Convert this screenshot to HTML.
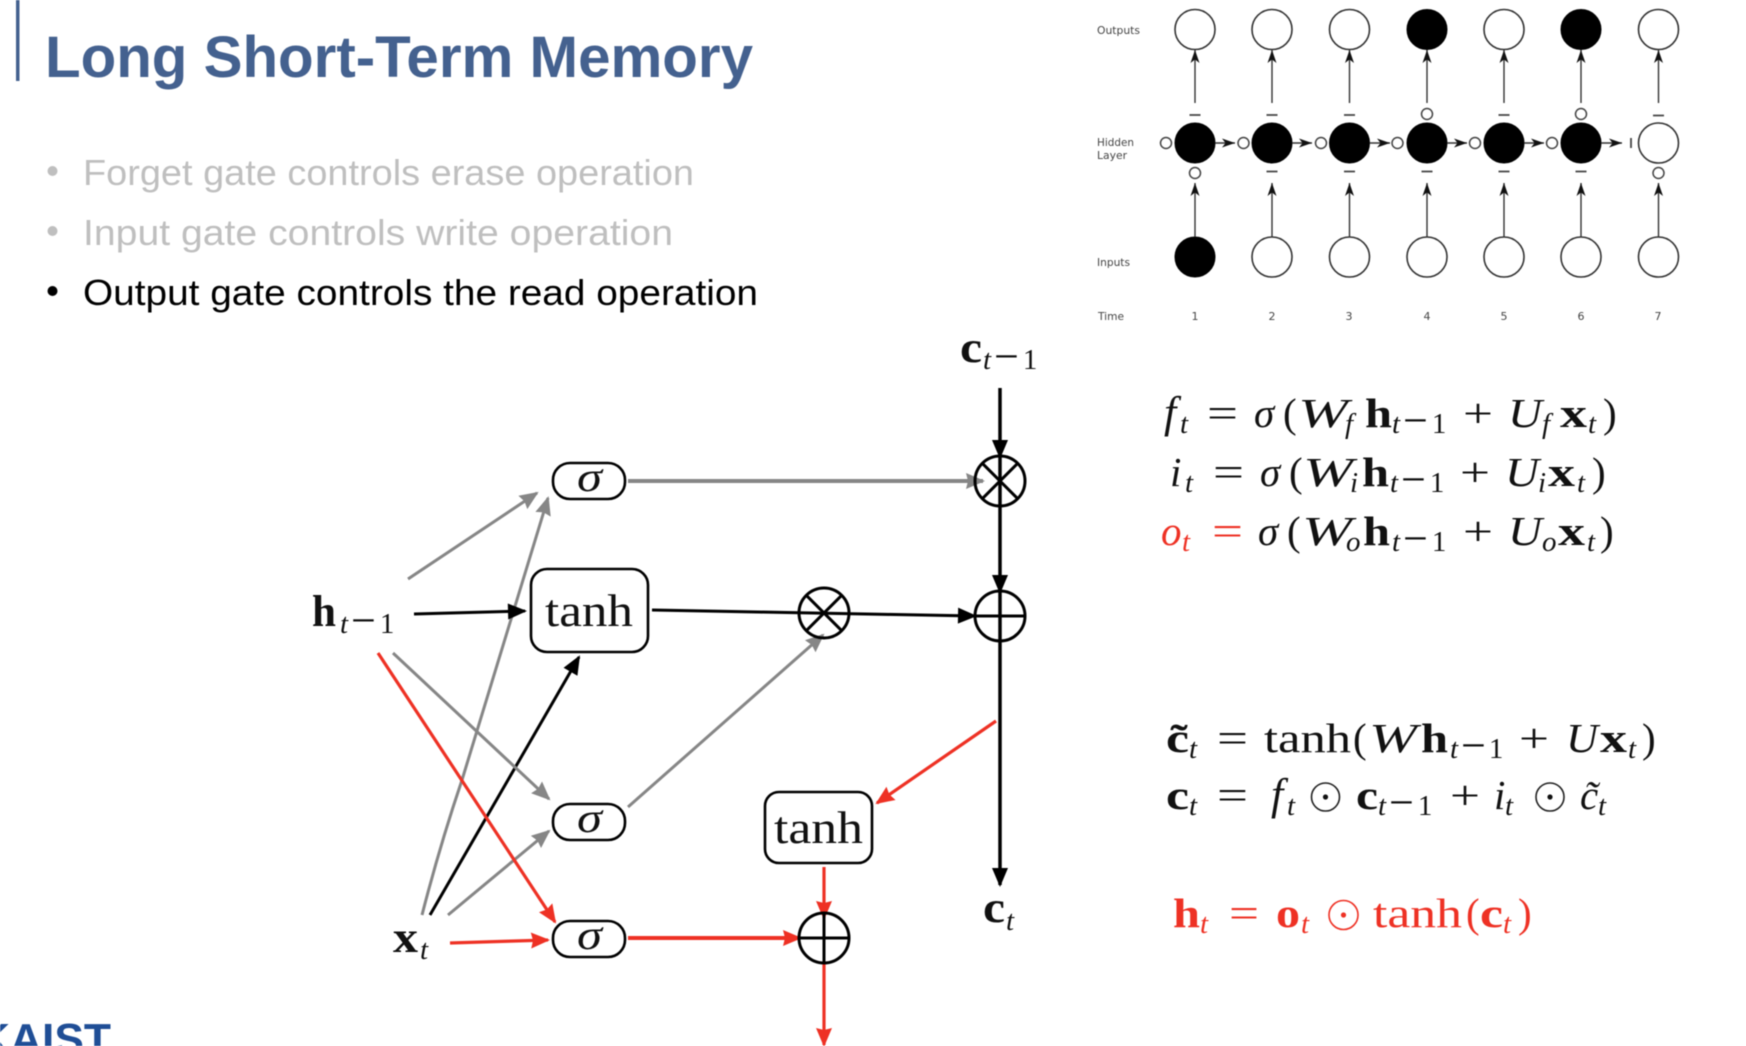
<!DOCTYPE html>
<html><head><meta charset="utf-8"><style>
html,body{margin:0;padding:0;background:#fff;width:1746px;height:1046px;overflow:hidden}
svg{display:block;filter:blur(.45px)}
text{font-family:"Liberation Serif",serif;fill:#111}
.m{font-size:41px}.i{font-style:italic}.b{font-weight:bold}.s{font-size:29px}.si{font-size:29px;font-style:italic}
.r text,text.r{fill:#ee3124}
.ui{font-family:"Liberation Sans",sans-serif}
.d{font-family:"DejaVu Sans",sans-serif;font-size:11px;fill:#444}
.n{stroke:#333;stroke-width:1.6;fill:#fff}.f{fill:#000;stroke:#000;stroke-width:1}
.o{stroke:#444;stroke-width:1.5;fill:#fff}
.a{stroke:#333;stroke-width:1.4;fill:none;marker-end:url(#st)}
.t{stroke:#444;stroke-width:1.8}
.k{stroke:#000;stroke-width:3.5;fill:none;marker-end:url(#hk)}
.g{stroke:#868686;stroke-width:3;fill:none;marker-end:url(#hg)}
.e{stroke:#ee3124;stroke-width:3.2;fill:none;marker-end:url(#he)}
.x{fill:none;stroke:#000;stroke-width:3}
.bx{fill:#fff;stroke:#000;stroke-width:2.6}
</style></head><body>
<svg width="1746" height="1046" viewBox="0 0 1746 1046" xmlns="http://www.w3.org/2000/svg">
<defs>
<marker id="st" markerUnits="userSpaceOnUse" markerWidth="16" markerHeight="12" refX="13" refY="6" orient="auto" overflow="visible"><path d="M0 1.5L13 6L0 10.5L3.5 6z" fill="#111"/></marker>
<marker id="hk" markerUnits="userSpaceOnUse" markerWidth="22" markerHeight="20" refX="17" refY="10" orient="auto" overflow="visible"><path d="M0 2L19 10L0 18z" fill="#000"/></marker>
<marker id="hg" markerUnits="userSpaceOnUse" markerWidth="22" markerHeight="20" refX="17" refY="10" orient="auto" overflow="visible"><path d="M0 2L19 10L0 18L2 10z" fill="#868686"/></marker>
<marker id="he" markerUnits="userSpaceOnUse" markerWidth="22" markerHeight="20" refX="17" refY="10" orient="auto" overflow="visible"><path d="M0 2L19 10L0 18L2 10z" fill="#ee3124"/></marker>
</defs>

<!-- title -->
<rect x="16" y="0" width="3.5" height="81" fill="#44618f"/>
<text class="ui" x="45" y="77" font-size="58" font-weight="bold" style="fill:#44618f" textLength="708" lengthAdjust="spacingAndGlyphs">Long Short-Term Memory</text>
<circle cx="52.5" cy="171" r="5" fill="#bfbfbf"/><circle cx="52.5" cy="231" r="5" fill="#bfbfbf"/><circle cx="52.5" cy="291" r="5" fill="#000"/>
<text class="ui" x="83" y="185" font-size="36" style="fill:#bfbfbf" textLength="611" lengthAdjust="spacingAndGlyphs">Forget gate controls erase operation</text>
<text class="ui" x="83" y="245" font-size="36" style="fill:#bfbfbf" textLength="590" lengthAdjust="spacingAndGlyphs">Input gate controls write operation</text>
<text class="ui" x="83" y="305" font-size="36" style="fill:#000" textLength="675" lengthAdjust="spacingAndGlyphs">Output gate controls the read operation</text>
<text class="ui" x="-22" y="1054" font-size="44" font-weight="bold" style="fill:#1f4e96" textLength="133" lengthAdjust="spacingAndGlyphs">KAIST</text>

<!-- RNN chart -->
<g>
<text class="d" x="1097" y="34" textLength="43" lengthAdjust="spacingAndGlyphs">Outputs</text>
<text class="d" x="1097" y="146" textLength="37" lengthAdjust="spacingAndGlyphs">Hidden</text>
<text class="d" x="1097" y="159" textLength="30" lengthAdjust="spacingAndGlyphs">Layer</text>
<text class="d" x="1097" y="266" textLength="33" lengthAdjust="spacingAndGlyphs">Inputs</text>
<text class="d" x="1098" y="320" textLength="26" lengthAdjust="spacingAndGlyphs">Time</text>
<text class="d" x="1195" y="320" text-anchor="middle">1</text><text class="d" x="1272" y="320" text-anchor="middle">2</text><text class="d" x="1349" y="320" text-anchor="middle">3</text><text class="d" x="1427" y="320" text-anchor="middle">4</text><text class="d" x="1504" y="320" text-anchor="middle">5</text><text class="d" x="1581" y="320" text-anchor="middle">6</text><text class="d" x="1658" y="320" text-anchor="middle">7</text>

<circle class="n" cx="1195" cy="29.5" r="20"/><circle class="n" cx="1272" cy="29.5" r="20"/><circle class="n" cx="1349.5" cy="29.5" r="20"/><circle class="f" cx="1427" cy="29.5" r="20"/><circle class="n" cx="1504" cy="29.5" r="20"/><circle class="f" cx="1581" cy="29.5" r="20"/><circle class="n" cx="1658.5" cy="29.5" r="20"/>
<circle class="f" cx="1195" cy="143" r="20"/><circle class="f" cx="1272" cy="143" r="20"/><circle class="f" cx="1349.5" cy="143" r="20"/><circle class="f" cx="1427" cy="143" r="20"/><circle class="f" cx="1504" cy="143" r="20"/><circle class="f" cx="1581" cy="143" r="20"/><circle class="n" cx="1658.5" cy="143" r="20"/>
<circle class="f" cx="1195" cy="257" r="20"/><circle class="n" cx="1272" cy="257" r="20"/><circle class="n" cx="1349.5" cy="257" r="20"/><circle class="n" cx="1427" cy="257" r="20"/><circle class="n" cx="1504" cy="257" r="20"/><circle class="n" cx="1581" cy="257" r="20"/><circle class="n" cx="1658.5" cy="257" r="20"/>
<path class="a" d="M1195 103V50"/><path class="a" d="M1272 103V50"/><path class="a" d="M1349.5 103V50"/><path class="a" d="M1427 103V50"/><path class="a" d="M1504 103V50"/><path class="a" d="M1581 103V50"/><path class="a" d="M1658.5 103V50"/>
<path class="a" d="M1195 237V183"/><path class="a" d="M1272 237V183"/><path class="a" d="M1349.5 237V183"/><path class="a" d="M1427 237V183"/><path class="a" d="M1504 237V183"/><path class="a" d="M1581 237V183"/><path class="a" d="M1658.5 237V183"/>
<path class="a" d="M1215 143H1235"/><path class="a" d="M1292 143H1312"/><path class="a" d="M1369.5 143H1390"/><path class="a" d="M1447 143H1467"/><path class="a" d="M1524 143H1544"/><path class="a" d="M1601 143H1622"/>
<line class="t" x1="1631" y1="138" x2="1631" y2="148"/>
<circle class="o" cx="1166" cy="143" r="5.5"/><circle class="o" cx="1243.5" cy="143" r="5.5"/><circle class="o" cx="1321" cy="143" r="5.5"/><circle class="o" cx="1397.5" cy="143" r="5.5"/><circle class="o" cx="1475" cy="143" r="5.5"/><circle class="o" cx="1552" cy="143" r="5.5"/>
<circle class="o" cx="1427" cy="114" r="5.5"/><circle class="o" cx="1581" cy="114" r="5.5"/>
<circle class="o" cx="1195" cy="173" r="5.5"/><circle class="o" cx="1658.5" cy="173" r="5.5"/>
<path class="t" d="M1189.5 115h11M1266.5 115h11M1344 115h11M1498.5 115h11M1653 115.500h11M1266.5 171.500h11M1344 171.500h11M1421.5 171.500h11M1498.5 171.500h11M1575.500 171.500h11"/>
</g>

<!-- diagram connectors -->
<path class="g" d="M408 579L537 493"/>
<path class="g" d="M422 915Q440 845 462 780L548 498"/>
<path class="k" style="stroke-width:3" d="M414 614L525 611"/>
<path class="k" style="stroke-width:3" d="M430 915L579 657"/>
<path class="g" d="M393 653L549 799"/>
<path class="g" d="M448 915L549 831"/>
<path class="g" d="M628 807L823 635"/>
<path class="g" style="stroke-width:4" d="M628 481H983"/>
<path class="k" d="M1000 388V457"/>
<path class="k" d="M1000 457V592"/>
<path class="k" d="M1000 592V885"/>
<path class="k" style="stroke-width:3" d="M652 610L975 616"/>
<path class="e" d="M378 653L555 922"/>
<path class="e" d="M450 943L548 940"/>
<path class="e" style="stroke-width:4" d="M628 938H800"/>
<path class="e" d="M996 721L877 803"/>
<path class="e" d="M824 867V918"/>
<path class="e" d="M824 963V1045"/>

<!-- operators -->
<circle class="x" cx="1000" cy="481" r="25"/><path class="x" d="M982.300 463.300L1017.700 498.700M982.300 498.700L1017.700 463.300"/>
<circle class="x" cx="824" cy="613" r="25"/><path class="x" d="M806.300 595.300L841.700 630.700M806.300 630.700L841.700 595.300"/>
<circle class="x" cx="1000" cy="616" r="25"/><path class="x" d="M975 616H1025M1000 591V641"/>
<circle class="x" cx="824" cy="938" r="25"/><path class="x" d="M799 938H849M824 913V963"/>

<!-- boxes -->
<rect class="bx" x="553" y="463" width="72" height="36" rx="17"/>
<rect class="bx" x="553" y="804" width="72" height="36" rx="17"/>
<rect class="bx" x="553" y="921" width="72" height="36" rx="17"/>
<rect class="bx" x="531" y="569" width="117" height="83" rx="16"/>
<rect class="bx" x="765" y="792" width="107" height="71" rx="14"/>
<text class="i" x="577" y="491" font-size="42" textLength="25" lengthAdjust="spacingAndGlyphs">σ</text>
<text class="i" x="577" y="832" font-size="42" textLength="25" lengthAdjust="spacingAndGlyphs">σ</text>
<text class="i" x="577" y="949" font-size="42" textLength="25" lengthAdjust="spacingAndGlyphs">σ</text>
<text x="545" y="626" font-size="45" textLength="88" lengthAdjust="spacingAndGlyphs">tanh</text>
<text x="774" y="843" font-size="45" textLength="89" lengthAdjust="spacingAndGlyphs">tanh</text>

<!-- diagram labels -->
<text class="b" x="312" y="626" font-size="44" textLength="24" lengthAdjust="spacingAndGlyphs">h</text>
<text class="s" x="340" y="633"><tspan font-style="italic">t</tspan><tspan font-size="44" dx="3" dy="2">−</tspan><tspan dx="4" dy="-2">1</tspan></text>
<text class="b" x="960" y="362" font-size="44" textLength="22" lengthAdjust="spacingAndGlyphs">c</text>
<text class="s" x="983" y="369"><tspan font-style="italic">t</tspan><tspan font-size="44" dx="3" dy="2">−</tspan><tspan dx="4" dy="-2">1</tspan></text>
<text class="b" x="393" y="952" font-size="44" textLength="25" lengthAdjust="spacingAndGlyphs">x</text>
<text class="si" x="420" y="959">t</text>
<text class="b" x="983" y="922" font-size="44" textLength="22" lengthAdjust="spacingAndGlyphs">c</text>
<text class="si" x="1006" y="930">t</text>

<!-- eq 1 -->
<text class="i" x="1164" y="427" font-size="44">f</text><text class="si" x="1180" y="433">t</text>
<text class="m" x="1207" y="427" textLength="31" lengthAdjust="spacingAndGlyphs">=</text>
<text class="m i" x="1254" y="427">σ</text><text class="m" x="1283" y="427">(</text>
<text class="m i" x="1298" y="427" textLength="50" lengthAdjust="spacingAndGlyphs">W</text><text class="si" x="1345" y="433">f</text>
<text class="m b" x="1365" y="427" textLength="27" lengthAdjust="spacingAndGlyphs">h</text>
<text class="s" x="1392" y="433"><tspan font-style="italic">t</tspan><tspan font-size="44" dx="3" dy="2">−</tspan><tspan dx="4" dy="-2">1</tspan></text>
<text class="m" x="1463" y="427" textLength="30" lengthAdjust="spacingAndGlyphs">+</text>
<text class="m i" x="1508" y="427" textLength="34" lengthAdjust="spacingAndGlyphs">U</text><text class="si" x="1542" y="433">f</text>
<text class="m b" x="1560" y="427" textLength="27" lengthAdjust="spacingAndGlyphs">x</text><text class="si" x="1588" y="433">t</text>
<text class="m" x="1603" y="427">)</text>

<!-- eq 2 -->
<text class="m i" x="1170" y="486">i</text><text class="si" x="1185" y="492">t</text>
<text class="m" x="1213" y="486" textLength="31" lengthAdjust="spacingAndGlyphs">=</text>
<text class="m i" x="1260" y="486">σ</text><text class="m" x="1289" y="486">(</text>
<text class="m i" x="1303" y="486" textLength="50" lengthAdjust="spacingAndGlyphs">W</text><text class="si" x="1350" y="492">i</text>
<text class="m b" x="1362" y="486" textLength="27" lengthAdjust="spacingAndGlyphs">h</text>
<text class="s" x="1390" y="492"><tspan font-style="italic">t</tspan><tspan font-size="44" dx="3" dy="2">−</tspan><tspan dx="4" dy="-2">1</tspan></text>
<text class="m" x="1460" y="486" textLength="30" lengthAdjust="spacingAndGlyphs">+</text>
<text class="m i" x="1505" y="486" textLength="34" lengthAdjust="spacingAndGlyphs">U</text><text class="si" x="1538" y="492">i</text>
<text class="m b" x="1548" y="486" textLength="27" lengthAdjust="spacingAndGlyphs">x</text><text class="si" x="1577" y="492">t</text>
<text class="m" x="1592" y="486">)</text>

<!-- eq 3 -->
<text class="m i r" x="1161" y="545">o</text><text class="si r" x="1182" y="551">t</text>
<text class="m r" x="1212" y="545" textLength="31" lengthAdjust="spacingAndGlyphs">=</text>
<text class="m i" x="1258" y="545">σ</text><text class="m" x="1287" y="545">(</text>
<text class="m i" x="1302" y="545" textLength="50" lengthAdjust="spacingAndGlyphs">W</text><text class="si" x="1346" y="551">o</text>
<text class="m b" x="1363" y="545" textLength="27" lengthAdjust="spacingAndGlyphs">h</text>
<text class="s" x="1392" y="551"><tspan font-style="italic">t</tspan><tspan font-size="44" dx="3" dy="2">−</tspan><tspan dx="4" dy="-2">1</tspan></text>
<text class="m" x="1463" y="545" textLength="30" lengthAdjust="spacingAndGlyphs">+</text>
<text class="m i" x="1508" y="545" textLength="34" lengthAdjust="spacingAndGlyphs">U</text><text class="si" x="1542" y="551">o</text>
<text class="m b" x="1558" y="545" textLength="27" lengthAdjust="spacingAndGlyphs">x</text><text class="si" x="1587" y="551">t</text>
<text class="m" x="1600" y="545">)</text>

<!-- eq 4 -->
<text class="m b" x="1166" y="752" textLength="23" lengthAdjust="spacingAndGlyphs">c̃</text><text class="si" x="1189" y="758">t</text>
<text class="m" x="1217" y="752" textLength="31" lengthAdjust="spacingAndGlyphs">=</text>
<text class="m" x="1264" y="752" textLength="87" lengthAdjust="spacingAndGlyphs">tanh</text><text class="m" x="1353" y="752">(</text>
<text class="m i" x="1369" y="752" textLength="48" lengthAdjust="spacingAndGlyphs">W</text>
<text class="m b" x="1421" y="752" textLength="27" lengthAdjust="spacingAndGlyphs">h</text>
<text class="s" x="1450" y="758"><tspan font-style="italic">t</tspan><tspan font-size="44" dx="3" dy="2">−</tspan><tspan dx="3" dy="-2">1</tspan></text>
<text class="m" x="1519" y="752" textLength="30" lengthAdjust="spacingAndGlyphs">+</text>
<text class="m i" x="1566" y="752" textLength="32" lengthAdjust="spacingAndGlyphs">U</text>
<text class="m b" x="1600" y="752" textLength="27" lengthAdjust="spacingAndGlyphs">x</text><text class="si" x="1628" y="758">t</text>
<text class="m" x="1642" y="752">)</text>

<!-- eq 5 -->
<text class="m b" x="1166" y="809" textLength="23" lengthAdjust="spacingAndGlyphs">c</text><text class="si" x="1189" y="815">t</text>
<text class="m" x="1217" y="809" textLength="31" lengthAdjust="spacingAndGlyphs">=</text>
<text class="i" x="1271" y="809" font-size="44">f</text><text class="si" x="1287" y="815">t</text>
<circle cx="1325.500" cy="797" r="14" fill="none" stroke="#222" stroke-width="1.6"/><circle cx="1325.500" cy="797" r="2.600" fill="#111"/>
<text class="m b" x="1356" y="809" textLength="22" lengthAdjust="spacingAndGlyphs">c</text>
<text class="s" x="1378" y="815"><tspan font-style="italic">t</tspan><tspan font-size="44" dx="3" dy="2">−</tspan><tspan dx="4" dy="-2">1</tspan></text>
<text class="m" x="1450" y="809" textLength="30" lengthAdjust="spacingAndGlyphs">+</text>
<text class="m i" x="1494" y="809">i</text><text class="si" x="1505" y="815">t</text>
<circle cx="1550" cy="797" r="14" fill="none" stroke="#222" stroke-width="1.6"/><circle cx="1550" cy="797" r="2.600" fill="#111"/>
<text class="m i" x="1580" y="809">c̃</text><text class="si" x="1598" y="815">t</text>

<!-- eq 6 -->
<text class="m b r" x="1173" y="927" textLength="27" lengthAdjust="spacingAndGlyphs">h</text><text class="si r" x="1200" y="933">t</text>
<text class="m r" x="1229" y="927" textLength="30" lengthAdjust="spacingAndGlyphs">=</text>
<text class="m b r" x="1276" y="927" textLength="24" lengthAdjust="spacingAndGlyphs">o</text><text class="si r" x="1301" y="933">t</text>
<circle cx="1343.500" cy="915" r="14.500" fill="none" stroke="#ee3124" stroke-width="1.6"/><circle cx="1343.500" cy="915" r="2.600" fill="#ee3124"/>
<text class="m r" x="1373" y="927" textLength="89" lengthAdjust="spacingAndGlyphs">tanh</text><text class="m r" x="1466" y="927">(</text>
<text class="m b r" x="1480" y="927" textLength="23" lengthAdjust="spacingAndGlyphs">c</text><text class="si r" x="1503" y="933">t</text>
<text class="m r" x="1518" y="927">)</text>
</svg>
</body></html>
